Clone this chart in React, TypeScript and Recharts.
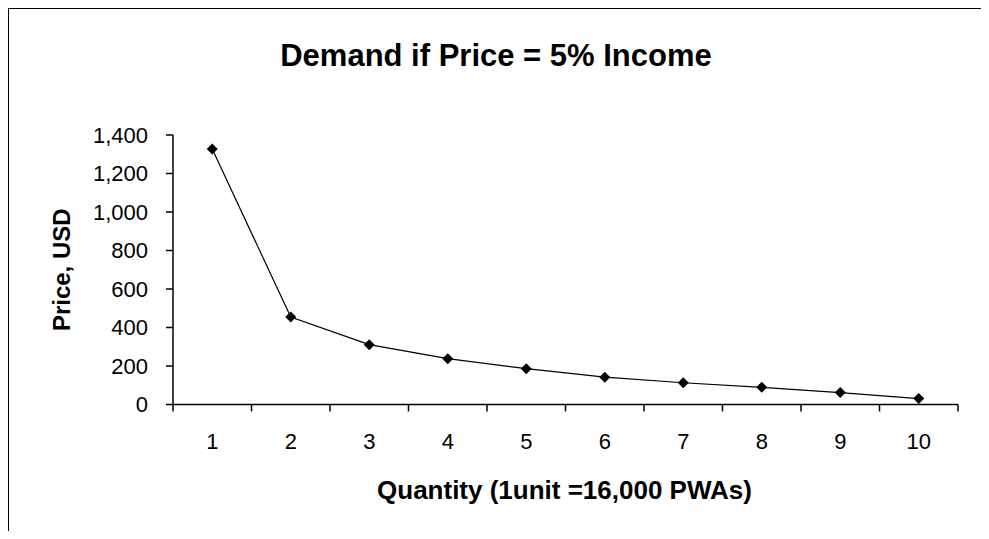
import { Line, LineChart, XAxis, YAxis, Label } from 'recharts';

const quantities = [1, 2, 3, 4, 5, 6, 7, 8, 9, 10];
const prices = [1327, 454, 311, 238, 186, 142, 113, 89, 62, 31];
const priceTicks = [0, 200, 400, 600, 800, 1000, 1200, 1400];

const TITLE = 'Demand if Price = 5% Income';
const X_LABEL = 'Quantity (1unit =16,000 PWAs)';
const Y_LABEL = 'Price, USD';

const FONT = '"Liberation Sans", Arial, sans-serif';

const data = quantities.map((q, i) => ({ q, price: prices[i] }));

// Excel style: tick marks between categories, labels at the centres
const boundaryTicks = [...quantities.map((q) => q - 0.5), quantities[quantities.length - 1] + 0.5];
const xTicks = [...boundaryTicks, ...quantities].sort((a, b) => a - b);

const XTick = (props: any) => {
	const { x, y, payload } = props;
	const v = payload.value;
	if (Number.isInteger(v)) {
		return (
			<text x={x} y={y + 30} textAnchor="middle" dominantBaseline="central" fontSize={22} fontFamily={FONT} fill="#000">
				{v}
			</text>
		);
	}
	return <line x1={x} x2={x} y1={y - 7} y2={y} stroke="#000" strokeWidth={1.5} />;
};

const Diamond = (props: any) => {
	const { cx, cy, index } = props;
	const r = 5.5;
	return <path key={`d-${index}`} d={`M${cx},${cy - r}L${cx + r},${cy}L${cx},${cy + r}L${cx - r},${cy}Z`} fill="#000" />;
};

export default function App() {
	return (
		<div
			style={{
				position: 'relative',
				width: 989,
				height: 539,
				margin: -8,
				background: '#fff',
				fontFamily: FONT,
			}}
		>
			<div
				style={{
					position: 'absolute',
					left: 0,
					top: 40,
					width: 992,
					textAlign: 'center',
					fontSize: 31,
					fontWeight: 'bold',
					lineHeight: '32px',
				}}
			>
				{TITLE}
			</div>
			<div style={{ position: 'absolute', left: 0, top: 0 }}>
				<LineChart width={989} height={539} data={data} margin={{ top: 135, right: 31, bottom: 0, left: 0 }}>
					<XAxis
						dataKey="q"
						type="number"
						domain={[boundaryTicks[0], boundaryTicks[boundaryTicks.length - 1]]}
						ticks={xTicks}
						interval={0}
						tick={<XTick />}
						tickLine={false}
						tickSize={7}
						tickMargin={0}
						height={134.5}
						axisLine={{ stroke: '#000', strokeWidth: 1.5 }}
					>
						<Label
							content={(p: any) => (
								<text
									x={p.viewBox.x + p.viewBox.width / 2 - 1}
									y={490}
									textAnchor="middle"
									dominantBaseline="central"
									fontSize={26}
									fontWeight="bold"
									fontFamily={FONT}
									fill="#000"
								>
									{X_LABEL}
								</text>
							)}
						/>
					</XAxis>
					<YAxis
						domain={[0, 1400]}
						ticks={priceTicks}
						interval={0}
						width={173}
						tickSize={7}
						tickMargin={18}
						tickFormatter={(v: number) => v.toLocaleString('en-US')}
						tick={{ fill: '#000', fontSize: 22, fontFamily: FONT }}
						tickLine={{ stroke: '#000', strokeWidth: 1.5 }}
						axisLine={{ stroke: '#000', strokeWidth: 1.5 }}
					>
						<Label
							content={(p: any) => {
								const cy = p.viewBox.y + p.viewBox.height / 2;
								return (
									<text
										x={61}
										y={cy}
										transform={`rotate(-90, 61, ${cy})`}
										textAnchor="middle"
										dominantBaseline="central"
										fontSize={24}
										fontWeight="bold"
										fontFamily={FONT}
										fill="#000"
									>
										{Y_LABEL}
									</text>
								);
							}}
						/>
					</YAxis>
					<Line
						dataKey="price"
						stroke="#000"
						strokeWidth={1.2}
						dot={Diamond}
						activeDot={false}
						isAnimationActive={false}
					/>
				</LineChart>
			</div>
			{/* chart frame, open at the bottom like the cropped original */}
			<div
				style={{
					position: 'absolute',
					left: 7,
					top: 7,
					width: 979,
					height: 532,
					borderTop: '2px solid #000',
					borderLeft: '2px solid #000',
					borderRight: '2px solid #000',
					boxSizing: 'border-box',
					pointerEvents: 'none',
				}}
			/>
		</div>
	);
}
